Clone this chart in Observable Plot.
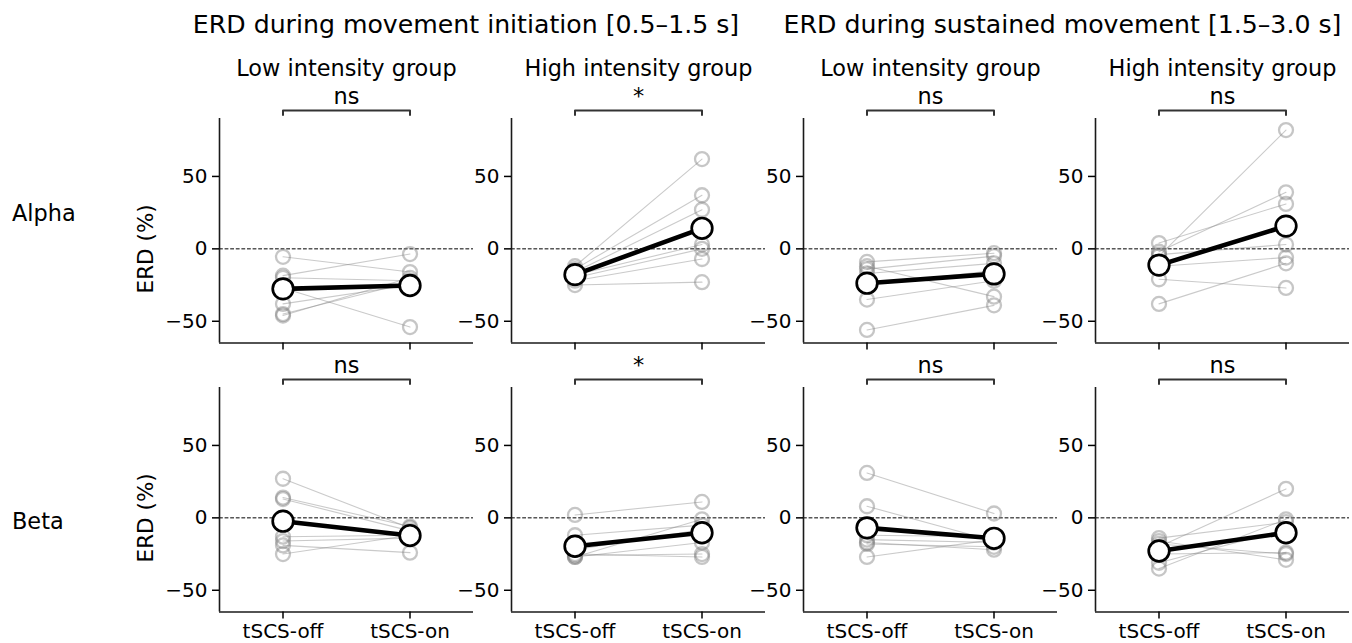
<!DOCTYPE html>
<html>
<head>
<meta charset="utf-8">
<script src="https://cdn.jsdelivr.net/npm/d3@7"></script>
<script src="https://cdn.jsdelivr.net/npm/@observablehq/plot@0.6"></script>
<style>
  html, body { margin: 0; padding: 0; background: white; overflow: hidden; }
  #root { position: relative; width: 1352px; height: 643px; font-family: "DejaVu Sans", sans-serif; }
  #root > svg, #root > figure { position: absolute; margin: 0; }
</style>
</head>
<body>
<div id="root"></div>
<script>
// ---------- data ----------
const conditions = ["tSCS-off", "tSCS-on"];
const windowTitles = ["ERD during movement initiation [0.5–1.5 s]", "ERD during sustained movement [1.5–3.0 s]"];
const panelGroups = ["Low intensity group", "High intensity group", "Low intensity group", "High intensity group"];
const bands = ["Alpha", "Beta"];
const alphaSignificance = ["ns", "*", "ns", "ns"];
const betaSignificance = ["ns", "*", "ns", "ns"];
const yTicks = [-50, 0, 50];

// individual subjects (one array per panel column)
const alphaOff = [
  [-5.5, -18.5, -20, -27, -38, -45, -46],
  [-12, -14, -16, -18, -20, -22, -25],
  [-9, -12, -14, -17, -35, -56, -25],
  [-5, 4, -2, -38, -21, -12, -4]
];
const alphaOn = [
  [-16, -3.6, -22, -54, -25, -23, -20],
  [62, 37, 27, 3, 0, -7, -23],
  [-3, -33, -5, -10, -22, -39, -15],
  [82, 31, 39, -10, -27, -6, 3]
];
const betaOff = [
  [27, 14, 13, -13, -16, -19, -25],
  [2, -12, -27, -27, -26, -25, -22],
  [31, 8, -12, -15, -17, -18, -27],
  [-20, -14, -31, -16, -18, -35, -25]
];
const betaOn = [
  [-7, -6, -9, -12, -14, -24, -12],
  [11, -5, -1, -17, -25, -27, -8],
  [3, -16, -13, -17, -22, -20, -15],
  [20, -3, -8, -29, -25, -1, -24]
];
// group means [off, on]
const alphaMean = [[-27.6, -25.3], [-17.8, 14.2], [-23.7, -17.3], [-11.2, 15.7]];
const betaMean = [[-2.3, -12.2], [-19.6, -10.3], [-6.9, -14.1], [-22.9, -10.3]];

// ---------- layout ----------
const yDomain = [-65, 90];
const spineX = [219, 511, 803, 1095];
const rowTop = [117.7, 387.3];
const plotW = 254, plotH = 224.5;
const mL = 80, mR = 12, mT = 72, mB = 32;

const root = document.getElementById("root");

function panel(row, col) {
  const off = row === 0 ? alphaOff[col] : betaOff[col];
  const on = row === 0 ? alphaOn[col] : betaOn[col];
  const m = row === 0 ? alphaMean[col] : betaMean[col];
  const sig = row === 0 ? alphaSignificance[col] : betaSignificance[col];
  const subj = off.flatMap((v, i) => [{s: i, x: 0, y: v}, {s: i, x: 1, y: on[i]}]);
  const mean = m.map((v, i) => ({x: i, y: v}));
  const pxPerUnit = plotH / (yDomain[1] - yDomain[0]);
  const bTop = yDomain[1] + 8 / pxPerUnit;
  const bTick = yDomain[1] + 3.6 / pxPerUnit;
  const bracket = [{x: 0, y: bTick}, {x: 0, y: bTop}, {x: 1, y: bTop}, {x: 1, y: bTick}];

  const marks = [
    Plot.ruleY([0], {stroke: "black", strokeWidth: 1, strokeDasharray: "3.8,1.8"}),
    Plot.line(subj, {x: "x", y: "y", z: "s", stroke: "#808080", strokeOpacity: 0.42, strokeWidth: 1.1}),
    Plot.dot(subj, {x: "x", y: "y", r: 7, stroke: "#808080", strokeOpacity: 0.45, strokeWidth: 2.3, fill: "none"}),
    Plot.line(mean, {x: "x", y: "y", stroke: "black", strokeWidth: 4.6}),
    Plot.dot(mean, {x: "x", y: "y", r: 10.3, fill: "white", stroke: "black", strokeWidth: 2.7}),
    Plot.ruleX([-0.5], {y1: yDomain[0], y2: yDomain[1], stroke: "#1a1a1a", strokeWidth: 1.6}),
    Plot.ruleY([yDomain[0]], {x1: -0.5, x2: 1.5, stroke: "#1a1a1a", strokeWidth: 1.6}),
    Plot.axisY({ticks: yTicks, tickSize: 7, tickPadding: 5, strokeWidth: 1.5, label: null, fontSize: 20}),
    Plot.axisX({ticks: [0, 1], tickSize: 7, tickPadding: 5, strokeWidth: 1.5, label: null, fontSize: 20,
                tickFormat: i => row === 1 ? conditions[i] : ""}),
    Plot.line(bracket, {x: "x", y: "y", stroke: "#333", strokeWidth: 2}),
    Plot.text([sig], {frameAnchor: "top", dy: -15, lineAnchor: "bottom", fontSize: 22.4})
  ];
  if (row === 0) {
    marks.push(Plot.text([panelGroups[col]], {frameAnchor: "top", dy: -42.7, lineAnchor: "bottom", fontSize: 22.4}));
  }
  if (col === 0) {
    marks.push(Plot.text([0], {y: d => d, text: () => "ERD (%)", frameAnchor: "left", dx: -73, rotate: -90,
                               textAnchor: "middle", lineAnchor: "middle", fontSize: 21.5}));
  }

  const chart = Plot.plot({
    width: mL + plotW + mR,
    height: mT + plotH + mB,
    marginLeft: mL, marginRight: mR, marginTop: mT, marginBottom: mB,
    x: {domain: [-0.5, 1.5]},
    y: {domain: yDomain},
    style: {fontFamily: "DejaVu Sans", fontSize: "20px", background: "transparent", color: "black", overflow: "visible"},
    marks
  });
  chart.style.left = (spineX[col] - mL) + "px";
  chart.style.top = (rowTop[row] - mT) + "px";
  chart.style.position = "absolute";
  root.appendChild(chart);
}

for (let r = 0; r < 2; r++) for (let c = 0; c < 4; c++) panel(r, c);

// overlay texts: window titles and band labels
const ns = "http://www.w3.org/2000/svg";
const overlay = document.createElementNS(ns, "svg");
overlay.setAttribute("width", 1352);
overlay.setAttribute("height", 643);
overlay.style.position = "absolute";
overlay.style.left = "0px";
overlay.style.top = "0px";
overlay.style.pointerEvents = "none";
overlay.style.fontFamily = "DejaVu Sans";
const titleCenters = [466, 1062.5];
windowTitles.forEach((t, i) => {
  const el = document.createElementNS(ns, "text");
  el.setAttribute("x", titleCenters[i]);
  el.setAttribute("y", 33.3);
  el.setAttribute("text-anchor", "middle");
  el.setAttribute("font-size", 25.2);
  el.textContent = t;
  overlay.appendChild(el);
});
const bandBaselines = [221, 529];
bands.forEach((b, i) => {
  const el = document.createElementNS(ns, "text");
  el.setAttribute("x", 12);
  el.setAttribute("y", bandBaselines[i]);
  el.setAttribute("font-size", 22.4);
  el.textContent = b;
  overlay.appendChild(el);
});
root.appendChild(overlay);
</script>
</body>
</html>
